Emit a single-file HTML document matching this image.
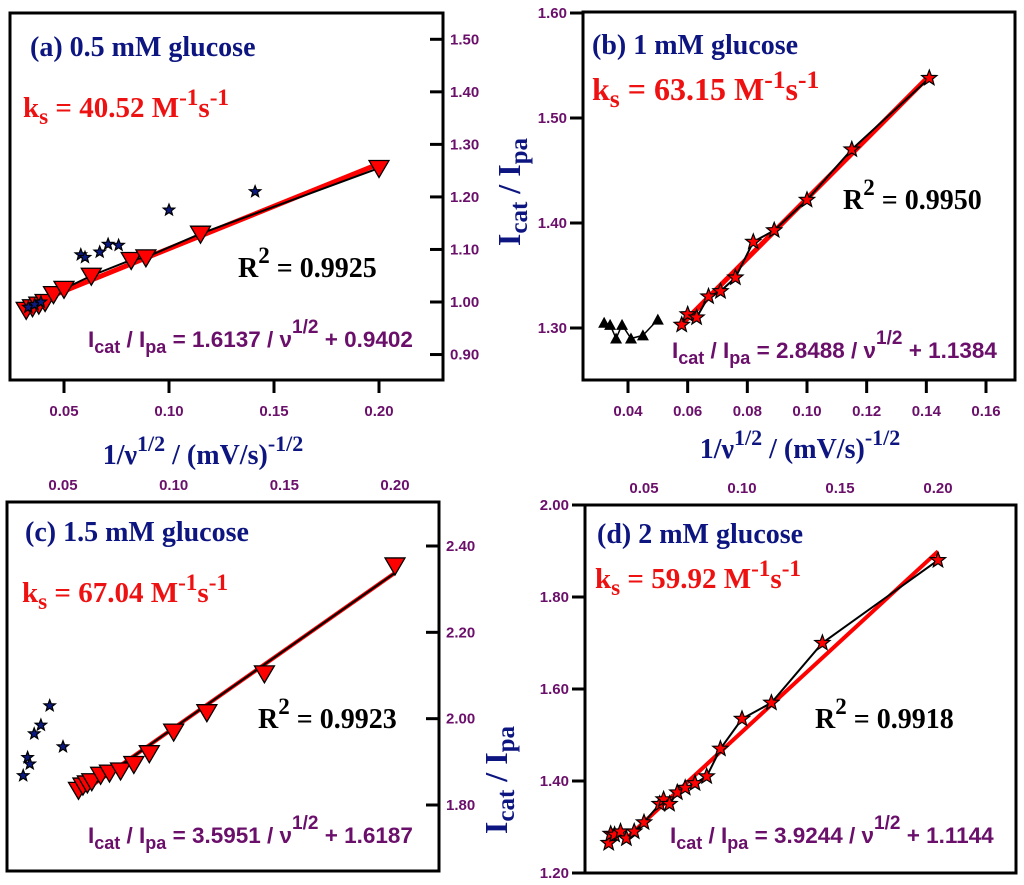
<!DOCTYPE html>
<html><head><meta charset="utf-8"><style>
html,body{margin:0;padding:0;background:#fff;}
svg{display:block;}
.ttl{font-family:"Liberation Serif",serif;font-weight:bold;fill:#0d1580;}
.ks{font-family:"Liberation Serif",serif;font-weight:bold;fill:#ee1111;}
.r2{font-family:"Liberation Serif",serif;font-weight:bold;fill:#000;}
.eq{font-family:"Liberation Sans",sans-serif;font-weight:bold;fill:#6a0f6a;}
.tk{font-family:"Liberation Sans",sans-serif;font-weight:bold;fill:#6a0f6a;font-size:15px;}
</style></head><body>
<svg id="fig" width="1024" height="885" viewBox="0 0 1024 885" xmlns="http://www.w3.org/2000/svg"></svg>
<script>
// Panel a (0.5 mM)
const aTriX=[0.032,0.035,0.038,0.041,0.045,0.05,0.063,0.082,0.089,0.115,0.2];
const aTriY=[0.985,0.99,0.995,1.0,1.015,1.025,1.05,1.08,1.085,1.13,1.255];
const aStarX=[0.033,0.036,0.039,0.058,0.06,0.067,0.071,0.076,0.1,0.141];
const aStarY=[0.99,0.995,1.0,1.09,1.085,1.095,1.11,1.108,1.175,1.21];
const aFit=[1.6137,0.9402];
const aXTicks=[0.05,0.10,0.15,0.20];
const aYTicks=[0.90,1.00,1.10,1.20,1.30,1.40,1.50];
// Panel b (1 mM)
const bTriX=[0.032,0.034,0.036,0.038,0.041,0.045,0.05];
const bTriY=[1.305,1.303,1.29,1.303,1.29,1.293,1.308];
const bStarX=[0.058,0.06,0.063,0.067,0.071,0.076,0.082,0.089,0.1,0.115,0.141];
const bStarY=[1.303,1.313,1.31,1.33,1.335,1.348,1.382,1.393,1.422,1.47,1.538];
const bFit=[2.8488,1.1384];
const bXTicks=[0.04,0.06,0.08,0.10,0.12,0.14,0.16];
const bYTicks=[1.30,1.40,1.50,1.60];
// Panel c (1.5 mM)
const cTriX=[0.057,0.059,0.061,0.063,0.067,0.071,0.076,0.082,0.089,0.1,0.115,0.141,0.2];
const cTriY=[1.835,1.845,1.85,1.855,1.87,1.875,1.88,1.895,1.92,1.97,2.015,2.105,2.355];
const cStarX=[0.032,0.034,0.035,0.037,0.04,0.044,0.05];
const cStarY=[1.868,1.91,1.895,1.965,1.985,2.03,1.935];
const cFit=[3.5951,1.6187];
const cXTicks=[0.05,0.10,0.15,0.20];
const cYTicks=[1.80,2.00,2.20,2.40];
// Panel d (2 mM)
const dStarX=[0.032,0.033,0.035,0.038,0.041,0.045,0.05,0.058,0.06,0.063,0.067,0.071,0.076,0.082,0.089,0.1,0.115,0.141,0.2];
const dStarY=[1.265,1.285,1.283,1.29,1.275,1.29,1.31,1.35,1.36,1.35,1.375,1.385,1.395,1.41,1.47,1.535,1.57,1.70,1.88];
const dFit=[3.9244,1.1144];
const dXTicks=[0.05,0.10,0.15,0.20];
const dYTicks=[1.20,1.40,1.60,1.80,2.00];

const NS='http://www.w3.org/2000/svg';
const svg=document.getElementById('fig');
function mk(tag,attrs,parent){const e=document.createElementNS(NS,tag);for(const k in attrs)e.setAttribute(k,attrs[k]);(parent||svg).appendChild(e);return e;}
function lin(d0,d1,r0,r1){return v=>r0+(v-d0)*(r1-r0)/(d1-d0);}
function starPts(cx,cy,R){let p=[];for(let i=0;i<10;i++){const r=i%2?R*0.42:R;const a=-Math.PI/2+i*Math.PI/5;p.push((cx+r*Math.cos(a)).toFixed(1)+','+(cy+r*Math.sin(a)).toFixed(1));}return p.join(' ');}
function triPts(cx,cy,s){return `${cx-s},${cy-s*0.75} ${cx+s},${cy-s*0.75} ${cx},${cy+s*0.95}`;}

function panel(o){
  const g=mk('g',{});
  
  
  const X=lin(o.xd[0],o.xd[1],o.xr[0],o.xr[1]);
  const Y=lin(o.yd[0],o.yd[1],o.yr[0],o.yr[1]);
  const box=mk('rect',{x:o.box[0],y:o.box[1],width:o.box[2]-o.box[0],height:o.box[3]-o.box[1],fill:'none',stroke:'#000','stroke-width':3},g);
  
  
  o.xt.forEach(v=>{
    const x=X(v);
    if(o.xTop){
      const t=mk('text',{x:x,y:o.box[1]-12,'text-anchor':'middle',class:'tk'},g);t.textContent=v.toFixed(2);
      
      
    }else{
      mk('line',{x1:x,x2:x,y1:o.box[3],y2:o.box[3]+13,stroke:'#000','stroke-width':3},g);
      const t=mk('text',{x:x,y:o.box[3]+36,'text-anchor':'middle',class:'tk'},g);t.textContent=v.toFixed(2);
      
      
    }
  });
  o.yt.forEach(v=>{
    const y=Y(v);
    let t;
    if(o.yRight){
      mk('line',{x1:o.box[2]-13,x2:o.box[2],y1:y,y2:y,stroke:'#000','stroke-width':3},g);
      t=mk('text',{x:o.box[2]+7,y:y+5,'text-anchor':'start',class:'tk'},g);
    }else{
      mk('line',{x1:o.box[0]-13,x2:o.box[0],y1:y,y2:y,stroke:'#000','stroke-width':3},g);
      t=mk('text',{x:o.box[0]-16,y:y+5,'text-anchor':'end',class:'tk'},g);
    }
    t.textContent=v.toFixed(2);
    
    
  });
  const fx0=o.fitRange[0],fx1=o.fitRange[1];
  const fit=mk('line',{x1:X(fx0),y1:Y(o.fit[1]+o.fit[0]*fx0),x2:X(fx1),y2:Y(o.fit[1]+o.fit[0]*fx1),stroke:'#ff0000','stroke-width':o.fitW||5},g);
  
  
  if(o.lineX){
    const pl=mk('polyline',{points:o.lineX.map((v,i)=>X(v)+','+Y(o.lineY[i])).join(' '),fill:'none',stroke:'#000','stroke-width':2},g);
    
    
  }
  if(o.line2X){
    const pl=mk('polyline',{points:o.line2X.map((v,i)=>X(v)+','+Y(o.line2Y[i])).join(' '),fill:'none',stroke:'#000','stroke-width':1.5},g);
    
    
  }
  (o.tri||[[],[]])[0].forEach((v,i)=>{
    const m=mk('polygon',{points:triPts(X(v),Y(o.tri[1][i]),o.triS||10),fill:'#ff0000',stroke:'#000','stroke-width':1.3},g);
    
    
  });
  (o.upTri||[[],[]])[0].forEach((v,i)=>{
    const cx=X(v),cy=Y(o.upTri[1][i]);
    const m=mk('polygon',{points:`${cx-6},${cy+5} ${cx+6},${cy+5} ${cx},${cy-6}`,fill:'#000'},g);
    
    
  });
  (o.star||[[],[]])[0].forEach((v,i)=>{
    const m=mk('polygon',{points:starPts(X(v),Y(o.star[1][i]),o.starS||7),fill:o.starFill,stroke:'#000','stroke-width':1.2},g);
    
    
  });
  const t1=mk('text',{x:o.tp[0],y:o.tp[1],class:'ttl','font-size':28},g);t1.textContent=o.title;
  
  
  const ks=o.kSize||29, ss=ks*0.8;
  const k=mk('text',{x:o.kp[0],y:o.kp[1],class:'ks','font-size':ks},g);
  k.innerHTML='k<tspan dy="7" font-size="'+ss+'">s</tspan><tspan dy="-7"> = '+o.ks+' M</tspan><tspan dy="-12" font-size="'+ss+'">-1</tspan><tspan dy="12">s</tspan><tspan dy="-12" font-size="'+ss+'">-1</tspan>';
  
  
  const r=mk('text',{x:o.rp[0],y:o.rp[1],class:'r2','font-size':28},g);
  r.innerHTML='R<tspan dy="-14" font-size="23">2</tspan><tspan dy="14"> = '+o.r2+'</tspan>';
  
  
  const e=mk('text',{x:o.ep[0],y:o.ep[1],class:'eq','font-size':22.5},g);
  e.innerHTML='I<tspan dy="6" font-size="18">cat</tspan><tspan dy="-6"> / I</tspan><tspan dy="6" font-size="18">pa</tspan><tspan dy="-6"> =  '+o.eq[0]+' / ν</tspan><tspan dy="-14" font-size="19">1/2</tspan><tspan dy="14"> + '+o.eq[1]+'</tspan>';
  
  
}

panel({name:'panel-a',box:[10,13,443,380],xd:[0.05,0.2],xr:[64,379],yd:[1.0,1.5],yr:[302,39.3],xt:aXTicks,yt:aYTicks,yRight:true,
  fit:aFit,fitRange:[0.031,0.2],lineX:aTriX,lineY:aTriY,tri:[aTriX,aTriY],star:[aStarX,aStarY],starFill:'#0b1a80',starS:6,
  title:'(a) 0.5 mM glucose',tp:[30,56],ks:'40.52',kp:[23,117],r2:'0.9925',rp:[238,277],eq:['1.6137','0.9402'],ep:[88,347]});
panel({name:'panel-b',box:[583,12,1015,380],xd:[0.04,0.16],xr:[628,986],yd:[1.3,1.6],yr:[328,13],xt:bXTicks,yt:bYTicks,
  fit:bFit,fitRange:[0.058,0.141],fitW:5,lineX:bStarX,lineY:bStarY,line2X:bTriX,line2Y:bTriY,upTri:[bTriX,bTriY],star:[bStarX,bStarY],starFill:'#ff0000',starS:8,
  title:'(b) 1 mM glucose',tp:[592,54],ks:'63.15',kSize:32,kp:[592,100],r2:'0.9950',rp:[843,209],eq:['2.8488','1.1384'],ep:[672,358]});
panel({name:'panel-c',box:[7,502,439,871],xd:[0.05,0.2],xr:[63,395],yd:[1.8,2.4],yr:[805,546],xt:cXTicks,yt:cYTicks,yRight:true,xTop:true,
  fit:cFit,fitRange:[0.057,0.2],fitW:4,lineX:cTriX,lineY:cTriX.map(v=>cFit[1]+cFit[0]*v),tri:[cTriX,cTriY],star:[cStarX,cStarY],starFill:'#0b1a80',starS:6,
  title:'(c) 1.5 mM glucose',tp:[25,541],ks:'67.04',kp:[22,602],r2:'0.9923',rp:[258,728],eq:['3.5951','1.6187'],ep:[88,843]});
panel({name:'panel-d',box:[585,505,1016,873],xd:[0.05,0.2],xr:[644,938],yd:[1.2,2.0],yr:[873,505],xt:dXTicks,yt:dYTicks,xTop:true,
  fit:dFit,fitRange:[0.04,0.2],fitW:4,lineX:dStarX,lineY:dStarY,star:[dStarX,dStarY],starFill:'#ff0000',starS:8,
  title:'(d) 2 mM glucose',tp:[597,543],ks:'59.92',kp:[595,588],r2:'0.9918',rp:[815,728],eq:['3.9244','1.1144'],ep:[670,843]});

function xTitle(x,y,name){
  const t=mk('text',{x:x,y:y,class:'ttl','font-size':28,'text-anchor':'middle'});
  t.innerHTML='1/ν<tspan dy="-13" font-size="22">1/2</tspan><tspan dy="13"> / (mV/s)</tspan><tspan dy="-13" font-size="22">-1/2</tspan>';
  
  
}
xTitle(203,464,'x-axis-title-left');
xTitle(800,458,'x-axis-title-right');
function yTitle(x,y,name){
  const t=mk('text',{x:0,y:0,class:'ttl','font-size':32,'text-anchor':'middle',transform:`translate(${x},${y}) rotate(-90)`});
  t.innerHTML='I<tspan dy="7" font-size="25">cat</tspan><tspan dy="-7"> / I</tspan><tspan dy="7" font-size="25">pa</tspan>';
  
  
}
yTitle(520,192,'y-axis-title-top');
yTitle(507,780,'y-axis-title-bottom');
</script>
</body></html>
